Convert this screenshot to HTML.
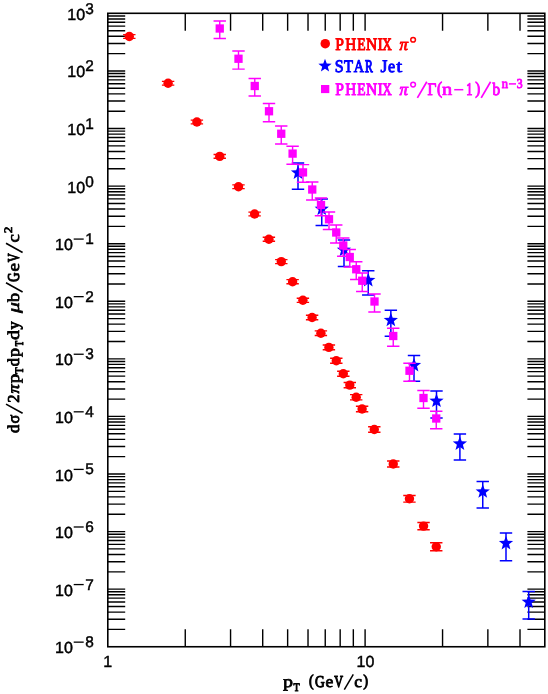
<!DOCTYPE html>
<html><head><meta charset="utf-8"><title>plot</title>
<style>html,body{margin:0;padding:0;background:#fff}svg{display:block}text{text-rendering:geometricPrecision}.tk{font-family:"Liberation Sans",sans-serif;font-size:16px;fill:#000;stroke:#000;stroke-width:.45px}.sp{font-family:"Liberation Sans",sans-serif;font-size:15.4px;fill:#000;stroke:#000;stroke-width:.45px}.lb{font-family:"Liberation Serif",serif;font-size:16.6px}.sb{font-family:"Liberation Serif",serif;font-size:11.5px}.sc{font-family:"Liberation Serif",serif;font-size:13.5px}.ll{font-family:"Liberation Serif",serif;font-size:17.6px}.it{font-style:italic}</style></head><body>
<svg width="548" height="694" viewBox="0 0 548 694" style="will-change:transform">
<rect width="548" height="694" fill="#fff"/>
<path d="M185.26 646.75V629.35M185.26 13.3V30.70M230.56 646.75V629.35M230.56 13.3V30.70M262.71 646.75V629.35M262.71 13.3V30.70M287.64 646.75V629.35M287.64 13.3V30.70M308.02 646.75V629.35M308.02 13.3V30.70M325.24 646.75V629.35M325.24 13.3V30.70M340.17 646.75V629.35M340.17 13.3V30.70M353.33 646.75V629.35M353.33 13.3V30.70M365.10 646.75V629.35M365.10 13.3V30.70M442.56 646.75V629.35M442.56 13.3V30.70M487.86 646.75V629.35M487.86 13.3V30.70M520.01 646.75V629.35M520.01 13.3V30.70M107.8 629.42H125.20M544.8 629.42H527.40M107.8 619.28H125.20M544.8 619.28H527.40M107.8 612.08H125.20M544.8 612.08H527.40M107.8 606.50H125.20M544.8 606.50H527.40M107.8 601.94H125.20M544.8 601.94H527.40M107.8 598.09H125.20M544.8 598.09H527.40M107.8 594.75H125.20M544.8 594.75H527.40M107.8 591.80H125.20M544.8 591.80H527.40M107.8 589.17H125.20M544.8 589.17H527.40M107.8 571.83H125.20M544.8 571.83H527.40M107.8 561.69H125.20M544.8 561.69H527.40M107.8 554.50H125.20M544.8 554.50H527.40M107.8 548.92H125.20M544.8 548.92H527.40M107.8 544.36H125.20M544.8 544.36H527.40M107.8 540.51H125.20M544.8 540.51H527.40M107.8 537.17H125.20M544.8 537.17H527.40M107.8 534.22H125.20M544.8 534.22H527.40M107.8 531.59H125.20M544.8 531.59H527.40M107.8 514.25H125.20M544.8 514.25H527.40M107.8 504.11H125.20M544.8 504.11H527.40M107.8 496.92H125.20M544.8 496.92H527.40M107.8 491.34H125.20M544.8 491.34H527.40M107.8 486.78H125.20M544.8 486.78H527.40M107.8 482.92H125.20M544.8 482.92H527.40M107.8 479.58H125.20M544.8 479.58H527.40M107.8 476.64H125.20M544.8 476.64H527.40M107.8 474.00H125.20M544.8 474.00H527.40M107.8 456.67H125.20M544.8 456.67H527.40M107.8 446.53H125.20M544.8 446.53H527.40M107.8 439.34H125.20M544.8 439.34H527.40M107.8 433.76H125.20M544.8 433.76H527.40M107.8 429.20H125.20M544.8 429.20H527.40M107.8 425.34H125.20M544.8 425.34H527.40M107.8 422.00H125.20M544.8 422.00H527.40M107.8 419.06H125.20M544.8 419.06H527.40M107.8 416.42H125.20M544.8 416.42H527.40M107.8 399.09H125.20M544.8 399.09H527.40M107.8 388.95H125.20M544.8 388.95H527.40M107.8 381.76H125.20M544.8 381.76H527.40M107.8 376.17H125.20M544.8 376.17H527.40M107.8 371.62H125.20M544.8 371.62H527.40M107.8 367.76H125.20M544.8 367.76H527.40M107.8 364.42H125.20M544.8 364.42H527.40M107.8 361.48H125.20M544.8 361.48H527.40M107.8 358.84H125.20M544.8 358.84H527.40M107.8 341.51H125.20M544.8 341.51H527.40M107.8 331.37H125.20M544.8 331.37H527.40M107.8 324.17H125.20M544.8 324.17H527.40M107.8 318.59H125.20M544.8 318.59H527.40M107.8 314.03H125.20M544.8 314.03H527.40M107.8 310.18H125.20M544.8 310.18H527.40M107.8 306.84H125.20M544.8 306.84H527.40M107.8 303.89H125.20M544.8 303.89H527.40M107.8 301.26H125.20M544.8 301.26H527.40M107.8 283.93H125.20M544.8 283.93H527.40M107.8 273.79H125.20M544.8 273.79H527.40M107.8 266.59H125.20M544.8 266.59H527.40M107.8 261.01H125.20M544.8 261.01H527.40M107.8 256.45H125.20M544.8 256.45H527.40M107.8 252.60H125.20M544.8 252.60H527.40M107.8 249.26H125.20M544.8 249.26H527.40M107.8 246.31H125.20M544.8 246.31H527.40M107.8 243.68H125.20M544.8 243.68H527.40M107.8 226.34H125.20M544.8 226.34H527.40M107.8 216.20H125.20M544.8 216.20H527.40M107.8 209.01H125.20M544.8 209.01H527.40M107.8 203.43H125.20M544.8 203.43H527.40M107.8 198.87H125.20M544.8 198.87H527.40M107.8 195.01H125.20M544.8 195.01H527.40M107.8 191.68H125.20M544.8 191.68H527.40M107.8 188.73H125.20M544.8 188.73H527.40M107.8 186.10H125.20M544.8 186.10H527.40M107.8 168.76H125.20M544.8 168.76H527.40M107.8 158.62H125.20M544.8 158.62H527.40M107.8 151.43H125.20M544.8 151.43H527.40M107.8 145.85H125.20M544.8 145.85H527.40M107.8 141.29H125.20M544.8 141.29H527.40M107.8 137.43H125.20M544.8 137.43H527.40M107.8 134.09H125.20M544.8 134.09H527.40M107.8 131.15H125.20M544.8 131.15H527.40M107.8 128.51H125.20M544.8 128.51H527.40M107.8 111.18H125.20M544.8 111.18H527.40M107.8 101.04H125.20M544.8 101.04H527.40M107.8 93.85H125.20M544.8 93.85H527.40M107.8 88.27H125.20M544.8 88.27H527.40M107.8 83.71H125.20M544.8 83.71H527.40M107.8 79.85H125.20M544.8 79.85H527.40M107.8 76.51H125.20M544.8 76.51H527.40M107.8 73.57H125.20M544.8 73.57H527.40M107.8 70.93H125.20M544.8 70.93H527.40M107.8 53.60H125.20M544.8 53.60H527.40M107.8 43.46H125.20M544.8 43.46H527.40M107.8 36.26H125.20M544.8 36.26H527.40M107.8 30.68H125.20M544.8 30.68H527.40M107.8 26.12H125.20M544.8 26.12H527.40M107.8 22.27H125.20M544.8 22.27H527.40M107.8 18.93H125.20M544.8 18.93H527.40M107.8 15.98H125.20M544.8 15.98H527.40" stroke="#000" stroke-width="1.4" fill="none"/>
<rect x="107.8" y="13.3" width="437.00" height="633.45" fill="none" stroke="#000" stroke-width="1.6"/>
<text class="tk" x="67.3" y="19.85">10</text>
<text class="sp" x="85.2" y="13.75">3</text>
<text class="tk" x="67.3" y="77.43">10</text>
<text class="sp" x="85.2" y="71.33">2</text>
<text class="tk" x="67.3" y="135.01">10</text>
<text class="sp" x="85.2" y="128.91">1</text>
<text class="tk" x="67.3" y="192.60">10</text>
<text class="sp" x="85.2" y="186.50">0</text>
<text class="tk" x="55.1" y="250.18">10</text>
<path d="M73.7 239.08H83.7" stroke="#000" stroke-width="1.3"/>
<text class="sp" x="85.2" y="244.08">1</text>
<text class="tk" x="55.1" y="307.76">10</text>
<path d="M73.7 296.66H83.7" stroke="#000" stroke-width="1.3"/>
<text class="sp" x="85.2" y="301.66">2</text>
<text class="tk" x="55.1" y="365.34">10</text>
<path d="M73.7 354.24H83.7" stroke="#000" stroke-width="1.3"/>
<text class="sp" x="85.2" y="359.24">3</text>
<text class="tk" x="55.1" y="422.92">10</text>
<path d="M73.7 411.82H83.7" stroke="#000" stroke-width="1.3"/>
<text class="sp" x="85.2" y="416.82">4</text>
<text class="tk" x="55.1" y="480.50">10</text>
<path d="M73.7 469.40H83.7" stroke="#000" stroke-width="1.3"/>
<text class="sp" x="85.2" y="474.40">5</text>
<text class="tk" x="55.1" y="538.09">10</text>
<path d="M73.7 526.99H83.7" stroke="#000" stroke-width="1.3"/>
<text class="sp" x="85.2" y="531.99">6</text>
<text class="tk" x="55.1" y="595.67">10</text>
<path d="M73.7 584.57H83.7" stroke="#000" stroke-width="1.3"/>
<text class="sp" x="85.2" y="589.57">7</text>
<text class="tk" x="55.1" y="653.25">10</text>
<path d="M73.7 642.15H83.7" stroke="#000" stroke-width="1.3"/>
<text class="sp" x="85.2" y="647.15">8</text>
<text class="tk" x="107.80" y="667.3" text-anchor="middle">1</text>
<text class="tk" x="365.50" y="667.1" text-anchor="middle">10</text>
<text class="lb" fill="#000" stroke="#000" stroke-width="0.71" stroke-linejoin="round" transform="translate(283.11 686.60) scale(1.203 1)">p</text>
<text class="sb" fill="#000" stroke="#000" stroke-width="0.97" stroke-linejoin="round" transform="translate(293.55 690.60) scale(0.880 1)">T</text>
<text class="lb" fill="#000" stroke="#000" stroke-width="1.00" stroke-linejoin="round" transform="translate(309.09 685.90) scale(0.846 1)">(</text>
<text class="lb" fill="#000" stroke="#000" stroke-width="1.05" stroke-linejoin="round" transform="translate(314.90 686.60) scale(0.811 1)">G</text>
<text class="lb" fill="#000" stroke="#000" stroke-width="0.80" stroke-linejoin="round" transform="translate(325.38 686.60) scale(1.056 1)">e</text>
<text class="lb" fill="#000" stroke="#000" stroke-width="1.16" stroke-linejoin="round" transform="translate(334.32 686.60) scale(0.733 1)">V</text>
<text class="lb" fill="#000" stroke="#000" stroke-width="0.80" stroke-linejoin="round" transform="translate(354.28 686.60) scale(1.056 1)">c</text>
<text class="lb" fill="#000" stroke="#000" stroke-width="0.97" stroke-linejoin="round" transform="translate(363.17 685.90) scale(0.873 1)">)</text>
<text class="ll" fill="#f00" stroke="#f00" stroke-width="0.96" stroke-linejoin="round" transform="translate(335.28 50.00) scale(0.887 1)">P</text>
<text class="ll" fill="#f00" stroke="#f00" stroke-width="0.98" stroke-linejoin="round" transform="translate(345.19 50.00) scale(0.864 1)">H</text>
<text class="ll" fill="#f00" stroke="#f00" stroke-width="1.10" stroke-linejoin="round" transform="translate(357.21 50.00) scale(0.774 1)">E</text>
<text class="ll" fill="#f00" stroke="#f00" stroke-width="0.97" stroke-linejoin="round" transform="translate(365.88 50.00) scale(0.880 1)">N</text>
<text class="ll" fill="#f00" stroke="#f00" stroke-width="0.92" stroke-linejoin="round" transform="translate(377.52 50.00) scale(0.919 1)">I</text>
<text class="ll" fill="#f00" stroke="#f00" stroke-width="1.18" stroke-linejoin="round" transform="translate(382.43 50.00) scale(0.723 1)">X</text>
<text class="ll it" fill="#f00" stroke="#f00" stroke-width="0.88" stroke-linejoin="round" transform="translate(399.43 50.00) scale(0.968 1)">π</text>
<text class="ll" fill="#f0f" stroke="#f0f" stroke-width="0.96" stroke-linejoin="round" transform="translate(335.28 94.80) scale(0.887 1)">P</text>
<text class="ll" fill="#f0f" stroke="#f0f" stroke-width="0.98" stroke-linejoin="round" transform="translate(345.19 94.80) scale(0.864 1)">H</text>
<text class="ll" fill="#f0f" stroke="#f0f" stroke-width="1.10" stroke-linejoin="round" transform="translate(357.21 94.80) scale(0.774 1)">E</text>
<text class="ll" fill="#f0f" stroke="#f0f" stroke-width="0.97" stroke-linejoin="round" transform="translate(365.88 94.80) scale(0.880 1)">N</text>
<text class="ll" fill="#f0f" stroke="#f0f" stroke-width="0.92" stroke-linejoin="round" transform="translate(377.52 94.80) scale(0.919 1)">I</text>
<text class="ll" fill="#f0f" stroke="#f0f" stroke-width="1.18" stroke-linejoin="round" transform="translate(382.43 94.80) scale(0.723 1)">X</text>
<text class="ll it" fill="#f0f" stroke="#f0f" stroke-width="0.88" stroke-linejoin="round" transform="translate(399.43 94.80) scale(0.968 1)">π</text>
<text class="ll" fill="#00f" stroke="#00f" stroke-width="0.94" stroke-linejoin="round" transform="translate(334.63 71.70) scale(0.903 1)">S</text>
<text class="ll" fill="#00f" stroke="#00f" stroke-width="1.02" stroke-linejoin="round" transform="translate(343.99 71.70) scale(0.837 1)">T</text>
<text class="ll" fill="#00f" stroke="#00f" stroke-width="1.05" stroke-linejoin="round" transform="translate(353.73 71.70) scale(0.810 1)">A</text>
<text class="ll" fill="#00f" stroke="#00f" stroke-width="1.28" stroke-linejoin="round" transform="translate(364.94 71.70) scale(0.662 1)">R</text>
<text class="ll" fill="#00f" stroke="#00f" stroke-width="0.83" stroke-linejoin="round" transform="translate(380.44 71.70) scale(1.020 1)">J</text>
<text class="ll" fill="#00f" stroke="#00f" stroke-width="0.93" stroke-linejoin="round" transform="translate(387.93 71.70) scale(0.909 1)">e</text>
<text class="ll" fill="#00f" stroke="#00f" stroke-width="0.70" stroke-linejoin="round" transform="translate(396.32 71.70) scale(1.222 1)">t</text>
<text class="ll" fill="#f0f" stroke="#f0f" stroke-width="0.98" stroke-linejoin="round" transform="translate(427.39 94.80) scale(0.872 1)">Γ</text>
<text class="ll" fill="#f0f" stroke="#f0f" stroke-width="0.97" stroke-linejoin="round" transform="translate(436.94 94.10) scale(0.879 1)">(</text>
<text class="ll" fill="#f0f" stroke="#f0f" stroke-width="0.74" stroke-linejoin="round" transform="translate(442.01 94.80) scale(1.155 1)">n</text>
<text class="ll" fill="#f0f" stroke="#f0f" stroke-width="1.21" stroke-linejoin="round" transform="translate(466.36 94.80) scale(0.705 1)">1</text>
<text class="ll" fill="#f0f" stroke="#f0f" stroke-width="1.01" stroke-linejoin="round" transform="translate(475.16 94.10) scale(0.845 1)">)</text>
<text class="ll" fill="#f0f" stroke="#f0f" stroke-width="0.98" stroke-linejoin="round" transform="translate(492.43 94.80) scale(0.867 1)">b</text>
<text class="sc" fill="#f0f" stroke="#f0f" stroke-width="0.92" stroke-linejoin="round" transform="translate(501.73 87.60) scale(0.925 1)">n</text>
<text class="sc" fill="#f0f" stroke="#f0f" stroke-width="0.98" stroke-linejoin="round" transform="translate(516.67 87.80) scale(0.869 1)">3</text>
<path d="M344.3 689.7L353.3 674.3" stroke="#000" stroke-width="1.5" fill="none"/>
<circle cx="413.1" cy="39.75" r="2.35" fill="none" stroke="#f00" stroke-width="1.5"/>
<circle cx="413.1" cy="84.55" r="2.35" fill="none" stroke="#f0f" stroke-width="1.5"/>
<path d="M417.4 97.9L426.8 81.8" stroke="#f0f" stroke-width="1.7" fill="none"/>
<path d="M454.2 89.7L463.3 89.7" stroke="#f0f" stroke-width="1.5" fill="none"/>
<path d="M481.2 97.9L490.6 81.8" stroke="#f0f" stroke-width="1.7" fill="none"/>
<path d="M508.9 83.9L516.0 83.9" stroke="#f0f" stroke-width="1.5" fill="none"/>
<g transform="translate(19.0 433) rotate(-90)">
<text class="lb" fill="#000" stroke="#000" stroke-width="0.84" stroke-linejoin="round" transform="translate(-0.10 0.00) scale(1.009 1)">d</text>
<text class="lb" fill="#000" stroke="#000" stroke-width="0.87" stroke-linejoin="round" transform="translate(9.62 0.00) scale(0.982 1)">σ</text>
<text class="lb" fill="#000" stroke="#000" stroke-width="0.86" stroke-linejoin="round" transform="translate(30.21 0.00) scale(0.992 1)">2</text>
<text class="lb it" fill="#000" stroke="#000" stroke-width="0.77" stroke-linejoin="round" transform="translate(39.42 0.00) scale(1.106 1)">π</text>
<text class="lb" fill="#000" stroke="#000" stroke-width="0.75" stroke-linejoin="round" transform="translate(49.73 0.00) scale(1.137 1)">p</text>
<text class="lb" fill="#000" stroke="#000" stroke-width="0.86" stroke-linejoin="round" transform="translate(66.72 0.00) scale(0.983 1)">d</text>
<text class="lb" fill="#000" stroke="#000" stroke-width="0.77" stroke-linejoin="round" transform="translate(75.94 0.00) scale(1.097 1)">p</text>
<text class="lb" fill="#000" stroke="#000" stroke-width="0.72" stroke-linejoin="round" transform="translate(92.91 0.00) scale(1.189 1)">d</text>
<text class="lb" fill="#000" stroke="#000" stroke-width="0.87" stroke-linejoin="round" transform="translate(103.42 0.00) scale(0.982 1)">y</text>
<text class="lb it" fill="#000" stroke="#000" stroke-width="0.65" stroke-linejoin="round" transform="translate(120.07 0.00) scale(1.312 1)">μ</text>
<text class="lb" fill="#000" stroke="#000" stroke-width="0.77" stroke-linejoin="round" transform="translate(131.12 0.00) scale(1.099 1)">b</text>
<text class="lb" fill="#000" stroke="#000" stroke-width="1.11" stroke-linejoin="round" transform="translate(151.23 0.00) scale(0.767 1)">G</text>
<text class="lb" fill="#000" stroke="#000" stroke-width="0.74" stroke-linejoin="round" transform="translate(161.43 0.00) scale(1.149 1)">e</text>
<text class="lb" fill="#000" stroke="#000" stroke-width="1.13" stroke-linejoin="round" transform="translate(170.82 0.00) scale(0.750 1)">V</text>
<text class="lb" fill="#000" stroke="#000" stroke-width="0.75" stroke-linejoin="round" transform="translate(190.44 0.00) scale(1.133 1)">c</text>
<text class="sb" fill="#000" stroke="#000" stroke-width="0.92" stroke-linejoin="round" transform="translate(59.34 4.10) scale(0.925 1)">T</text>
<text class="sb" fill="#000" stroke="#000" stroke-width="1.10" stroke-linejoin="round" transform="translate(86.77 4.10) scale(0.774 1)">T</text>
<text class="sb" fill="#000" stroke="#000" stroke-width="0.74" stroke-linejoin="round" transform="translate(199.65 -7.20) scale(1.151 1)">2</text>
<path d="M19.80000000000001 3.6L28.899999999999977 -13.0" stroke="#000" stroke-width="1.6" fill="none"/>
<path d="M141.0 3.6L150.2 -13.0" stroke="#000" stroke-width="1.6" fill="none"/>
<path d="M180.5 3.6L189.7 -13.0" stroke="#000" stroke-width="1.6" fill="none"/>
</g>
<path d="M129.3 34.6V38.4M123.10 34.6H135.50M123.10 38.4H135.50" stroke="#f00" stroke-width="1.4" fill="none"/>
<circle cx="129.3" cy="36.5" r="4.7" fill="#f00"/>
<path d="M168.1 81.35V85.15M161.90 81.35H174.30M161.90 85.15H174.30" stroke="#f00" stroke-width="1.4" fill="none"/>
<circle cx="168.1" cy="83.25" r="4.7" fill="#f00"/>
<path d="M196.9 120.1V123.9M190.70 120.1H203.10M190.70 123.9H203.10" stroke="#f00" stroke-width="1.4" fill="none"/>
<circle cx="196.9" cy="122" r="4.7" fill="#f00"/>
<path d="M219.75 154.5V158.3M213.55 154.5H225.95M213.55 158.3H225.95" stroke="#f00" stroke-width="1.4" fill="none"/>
<circle cx="219.75" cy="156.4" r="4.7" fill="#f00"/>
<path d="M238.5 184.85V188.65M232.30 184.85H244.70M232.30 188.65H244.70" stroke="#f00" stroke-width="1.4" fill="none"/>
<circle cx="238.5" cy="186.75" r="4.7" fill="#f00"/>
<path d="M254.6 212.1V215.9M248.40 212.1H260.80M248.40 215.9H260.80" stroke="#f00" stroke-width="1.4" fill="none"/>
<circle cx="254.6" cy="214" r="4.7" fill="#f00"/>
<path d="M268.9 237.25V241.25M262.70 237.25H275.10M262.70 241.25H275.10" stroke="#f00" stroke-width="1.4" fill="none"/>
<circle cx="268.9" cy="239.25" r="4.7" fill="#f00"/>
<path d="M281.3 259.6V263.6M275.10 259.6H287.50M275.10 263.6H287.50" stroke="#f00" stroke-width="1.4" fill="none"/>
<circle cx="281.3" cy="261.6" r="4.7" fill="#f00"/>
<path d="M292.6 279.6V283.8M286.40 279.6H298.80M286.40 283.8H298.80" stroke="#f00" stroke-width="1.4" fill="none"/>
<circle cx="292.6" cy="281.7" r="4.7" fill="#f00"/>
<path d="M302.9 298.2V302.4M296.70 298.2H309.10M296.70 302.4H309.10" stroke="#f00" stroke-width="1.4" fill="none"/>
<circle cx="302.9" cy="300.3" r="4.7" fill="#f00"/>
<path d="M312.1 315.3V319.7M305.90 315.3H318.30M305.90 319.7H318.30" stroke="#f00" stroke-width="1.4" fill="none"/>
<circle cx="312.1" cy="317.5" r="4.7" fill="#f00"/>
<path d="M320.9 330.9V335.5M314.70 330.9H327.10M314.70 335.5H327.10" stroke="#f00" stroke-width="1.4" fill="none"/>
<circle cx="320.9" cy="333.2" r="4.7" fill="#f00"/>
<path d="M328.9 345.0V349.8M322.70 345.0H335.10M322.70 349.8H335.10" stroke="#f00" stroke-width="1.4" fill="none"/>
<circle cx="328.9" cy="347.4" r="4.7" fill="#f00"/>
<path d="M336.3 358.2V363.2M330.10 358.2H342.50M330.10 363.2H342.50" stroke="#f00" stroke-width="1.4" fill="none"/>
<circle cx="336.3" cy="360.7" r="4.7" fill="#f00"/>
<path d="M343.3 371.2V376.2M337.10 371.2H349.50M337.10 376.2H349.50" stroke="#f00" stroke-width="1.4" fill="none"/>
<circle cx="343.3" cy="373.7" r="4.7" fill="#f00"/>
<path d="M349.8 382.5V387.7M343.60 382.5H356.00M343.60 387.7H356.00" stroke="#f00" stroke-width="1.4" fill="none"/>
<circle cx="349.8" cy="385.1" r="4.7" fill="#f00"/>
<path d="M356.2 394.65V399.85M350.00 394.65H362.40M350.00 399.85H362.40" stroke="#f00" stroke-width="1.4" fill="none"/>
<circle cx="356.2" cy="397.25" r="4.7" fill="#f00"/>
<path d="M362.1 406.3V411.7M355.90 406.3H368.30M355.90 411.7H368.30" stroke="#f00" stroke-width="1.4" fill="none"/>
<circle cx="362.1" cy="409" r="4.7" fill="#f00"/>
<path d="M374.3 426.7V432.3M368.10 426.7H380.50M368.10 432.3H380.50" stroke="#f00" stroke-width="1.4" fill="none"/>
<circle cx="374.3" cy="429.5" r="4.7" fill="#f00"/>
<path d="M393.25 461V467M387.05 461H399.45M387.05 467H399.45" stroke="#f00" stroke-width="1.4" fill="none"/>
<circle cx="393.25" cy="464" r="4.7" fill="#f00"/>
<path d="M409.45 495.5V502.1M403.25 495.5H415.65M403.25 502.1H415.65" stroke="#f00" stroke-width="1.4" fill="none"/>
<circle cx="409.45" cy="498.8" r="4.7" fill="#f00"/>
<path d="M423.55 522.5V529.7M417.35 522.5H429.75M417.35 529.7H429.75" stroke="#f00" stroke-width="1.4" fill="none"/>
<circle cx="423.55" cy="526.1" r="4.7" fill="#f00"/>
<path d="M436.25 542.8V550.8M430.05 542.8H442.45M430.05 550.8H442.45" stroke="#f00" stroke-width="1.4" fill="none"/>
<circle cx="436.25" cy="546.8" r="4.7" fill="#f00"/>
<path d="M298 163V189.25M291.80 163H304.20M291.80 189.25H304.20" stroke="#00f" stroke-width="1.5" fill="none"/>
<polygon points="298.00,165.40 299.85,170.35 305.13,170.58 301.00,173.87 302.41,178.97 298.00,176.05 293.59,178.97 295.00,173.87 290.87,170.58 296.15,170.35" fill="#00f"/>
<path d="M321.75 199V225.5M315.55 199H327.95M315.55 225.5H327.95" stroke="#00f" stroke-width="1.5" fill="none"/>
<polygon points="321.75,201.50 323.60,206.45 328.88,206.68 324.75,209.97 326.16,215.07 321.75,212.15 317.34,215.07 318.75,209.97 314.62,206.68 319.90,206.45" fill="#00f"/>
<path d="M344 240V266.5M337.80 240H350.20M337.80 266.5H350.20" stroke="#00f" stroke-width="1.5" fill="none"/>
<polygon points="344.00,242.60 345.85,247.55 351.13,247.78 347.00,251.07 348.41,256.17 344.00,253.25 339.59,256.17 341.00,251.07 336.87,247.78 342.15,247.55" fill="#00f"/>
<path d="M368.25 270.75V295M362.05 270.75H374.45M362.05 295H374.45" stroke="#00f" stroke-width="1.5" fill="none"/>
<polygon points="368.25,272.90 370.10,277.85 375.38,278.08 371.25,281.37 372.66,286.47 368.25,283.55 363.84,286.47 365.25,281.37 361.12,278.08 366.40,277.85" fill="#00f"/>
<path d="M390.85 310.25V336.25M384.65 310.25H397.05M384.65 336.25H397.05" stroke="#00f" stroke-width="1.5" fill="none"/>
<polygon points="390.85,312.70 392.70,317.65 397.98,317.88 393.85,321.17 395.26,326.27 390.85,323.35 386.44,326.27 387.85,321.17 383.72,317.88 389.00,317.65" fill="#00f"/>
<path d="M414 355.5V381.25M407.80 355.5H420.20M407.80 381.25H420.20" stroke="#00f" stroke-width="1.5" fill="none"/>
<polygon points="414.00,357.90 415.85,362.85 421.13,363.08 417.00,366.37 418.41,371.47 414.00,368.55 409.59,371.47 411.00,366.37 406.87,363.08 412.15,362.85" fill="#00f"/>
<path d="M436.5 391V418M430.30 391H442.70M430.30 418H442.70" stroke="#00f" stroke-width="1.5" fill="none"/>
<polygon points="436.50,393.50 438.35,398.45 443.63,398.68 439.50,401.97 440.91,407.07 436.50,404.15 432.09,407.07 433.50,401.97 429.37,398.68 434.65,398.45" fill="#00f"/>
<path d="M459.9 434.1V460M453.70 434.1H466.10M453.70 460H466.10" stroke="#00f" stroke-width="1.5" fill="none"/>
<polygon points="459.90,436.40 461.75,441.35 467.03,441.58 462.90,444.87 464.31,449.97 459.90,447.05 455.49,449.97 456.90,444.87 452.77,441.58 458.05,441.35" fill="#00f"/>
<path d="M482.75 481.5V508M476.55 481.5H488.95M476.55 508H488.95" stroke="#00f" stroke-width="1.5" fill="none"/>
<polygon points="482.75,484.20 484.60,489.15 489.88,489.38 485.75,492.67 487.16,497.77 482.75,494.85 478.34,497.77 479.75,492.67 475.62,489.38 480.90,489.15" fill="#00f"/>
<path d="M506 533V560.75M499.80 533H512.20M499.80 560.75H512.20" stroke="#00f" stroke-width="1.5" fill="none"/>
<polygon points="506.00,535.90 507.85,540.85 513.13,541.08 509.00,544.37 510.41,549.47 506.00,546.55 501.59,549.47 503.00,544.37 498.87,541.08 504.15,540.85" fill="#00f"/>
<path d="M528.7 591.4V619.1M522.50 591.4H534.90M522.50 619.1H534.90" stroke="#00f" stroke-width="1.5" fill="none"/>
<polygon points="528.70,594.50 530.55,599.45 535.83,599.68 531.70,602.97 533.11,608.07 528.70,605.15 524.29,608.07 525.70,602.97 521.57,599.68 526.85,599.45" fill="#00f"/>
<path d="M219.75 21V38.5M213.55 21H225.95M213.55 38.5H225.95" stroke="#f0f" stroke-width="1.4" fill="none"/>
<rect x="215.60" y="24.35" width="8.3" height="8.3" fill="#f0f"/>
<path d="M238.5 51V69.1M232.30 51H244.70M232.30 69.1H244.70" stroke="#f0f" stroke-width="1.4" fill="none"/>
<rect x="234.35" y="54.60" width="8.3" height="8.3" fill="#f0f"/>
<path d="M254.75 78.5V96M248.55 78.5H260.95M248.55 96H260.95" stroke="#f0f" stroke-width="1.4" fill="none"/>
<rect x="250.60" y="81.85" width="8.3" height="8.3" fill="#f0f"/>
<path d="M269 103.5V121.75M262.80 103.5H275.20M262.80 121.75H275.20" stroke="#f0f" stroke-width="1.4" fill="none"/>
<rect x="264.85" y="107.10" width="8.3" height="8.3" fill="#f0f"/>
<path d="M281.25 126V144M275.05 126H287.45M275.05 144H287.45" stroke="#f0f" stroke-width="1.4" fill="none"/>
<rect x="277.10" y="129.60" width="8.3" height="8.3" fill="#f0f"/>
<path d="M292.6 146.25V164.25M286.40 146.25H298.80M286.40 164.25H298.80" stroke="#f0f" stroke-width="1.4" fill="none"/>
<rect x="288.45" y="149.45" width="8.3" height="8.3" fill="#f0f"/>
<path d="M303 164.6V182.3M296.80 164.6H309.20M296.80 182.3H309.20" stroke="#f0f" stroke-width="1.4" fill="none"/>
<rect x="298.85" y="168.25" width="8.3" height="8.3" fill="#f0f"/>
<path d="M312.25 182V200M306.05 182H318.45M306.05 200H318.45" stroke="#f0f" stroke-width="1.4" fill="none"/>
<rect x="308.10" y="185.35" width="8.3" height="8.3" fill="#f0f"/>
<path d="M321 198V215.75M314.80 198H327.20M314.80 215.75H327.20" stroke="#f0f" stroke-width="1.4" fill="none"/>
<rect x="316.85" y="200.85" width="8.3" height="8.3" fill="#f0f"/>
<path d="M329 212V229.5M322.80 212H335.20M322.80 229.5H335.20" stroke="#f0f" stroke-width="1.4" fill="none"/>
<rect x="324.85" y="215.10" width="8.3" height="8.3" fill="#f0f"/>
<path d="M336.25 225V243M330.05 225H342.45M330.05 243H342.45" stroke="#f0f" stroke-width="1.4" fill="none"/>
<rect x="332.10" y="228.35" width="8.3" height="8.3" fill="#f0f"/>
<path d="M343.25 238V256.25M337.05 238H349.45M337.05 256.25H349.45" stroke="#f0f" stroke-width="1.4" fill="none"/>
<rect x="339.10" y="241.35" width="8.3" height="8.3" fill="#f0f"/>
<path d="M349.75 249.5V267M343.55 249.5H355.95M343.55 267H355.95" stroke="#f0f" stroke-width="1.4" fill="none"/>
<rect x="345.60" y="252.85" width="8.3" height="8.3" fill="#f0f"/>
<path d="M356.25 261.75V279.5M350.05 261.75H362.45M350.05 279.5H362.45" stroke="#f0f" stroke-width="1.4" fill="none"/>
<rect x="352.10" y="265.10" width="8.3" height="8.3" fill="#f0f"/>
<path d="M362.25 273V291.5M356.05 273H368.45M356.05 291.5H368.45" stroke="#f0f" stroke-width="1.4" fill="none"/>
<rect x="358.10" y="276.60" width="8.3" height="8.3" fill="#f0f"/>
<path d="M374.5 294V312M368.30 294H380.70M368.30 312H380.70" stroke="#f0f" stroke-width="1.4" fill="none"/>
<rect x="370.35" y="297.35" width="8.3" height="8.3" fill="#f0f"/>
<path d="M393.25 328.25V346.25M387.05 328.25H399.45M387.05 346.25H399.45" stroke="#f0f" stroke-width="1.4" fill="none"/>
<rect x="389.10" y="331.85" width="8.3" height="8.3" fill="#f0f"/>
<path d="M409.5 363.25V381.25M403.30 363.25H415.70M403.30 381.25H415.70" stroke="#f0f" stroke-width="1.4" fill="none"/>
<rect x="405.35" y="366.60" width="8.3" height="8.3" fill="#f0f"/>
<path d="M423.5 390.5V408.25M417.30 390.5H429.70M417.30 408.25H429.70" stroke="#f0f" stroke-width="1.4" fill="none"/>
<rect x="419.35" y="393.85" width="8.3" height="8.3" fill="#f0f"/>
<path d="M436.25 411.25V428.75M430.05 411.25H442.45M430.05 428.75H442.45" stroke="#f0f" stroke-width="1.4" fill="none"/>
<rect x="432.10" y="414.35" width="8.3" height="8.3" fill="#f0f"/>
<circle cx="325.25" cy="43.65" r="4.75" fill="#f00"/>
<polygon points="325.00,58.85 326.73,63.47 331.66,63.69 327.80,66.76 329.11,71.51 325.00,68.79 320.89,71.51 322.20,66.76 318.34,63.69 323.27,63.47" fill="#00f"/>
<rect x="321.0" y="85.0" width="8.3" height="8.1" fill="#f0f"/>
</svg></body></html>
